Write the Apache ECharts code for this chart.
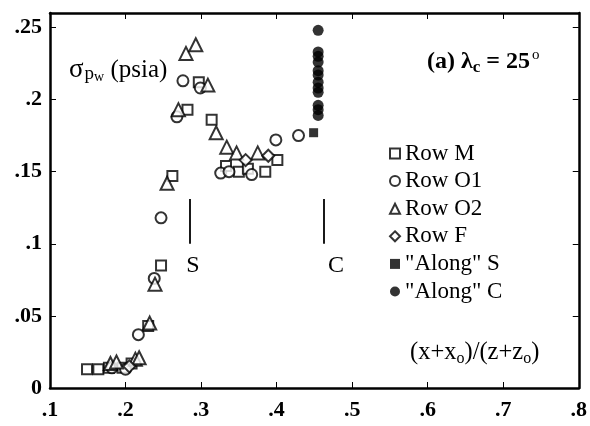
<!DOCTYPE html>
<html>
<head>
<meta charset="utf-8">
<script src="https://cdn.jsdelivr.net/npm/echarts@6/dist/echarts.min.js"></script>
<style>html,body{margin:0;padding:0;background:#fff}#c{width:590px;height:426px}</style>
</head>
<body>
<div id="c"></div>
<script>
var xTicks = [0.1,0.2,0.3,0.4,0.5,0.6,0.7,0.8];
var yTicks = [0,0.05,0.1,0.15,0.2,0.25];

var rowM = [[0.149,0.013],[0.164,0.013],[0.178,0.014],[0.196,0.014],[0.208,0.017],[0.230,0.043],[0.247,0.085],[0.262,0.147],[0.282,0.193],[0.297,0.212],[0.314,0.186],[0.333,0.154],[0.350,0.150],[0.362,0.152],[0.385,0.150],[0.401,0.158]];
var rowO1 = [[0.182,0.014],[0.200,0.013],[0.217,0.037],[0.238,0.076],[0.247,0.118],[0.268,0.188],[0.276,0.213],[0.299,0.208],[0.326,0.149],[0.337,0.150],[0.367,0.148],[0.399,0.172],[0.429,0.175]];
var rowO2 = [[0.180,0.017],[0.188,0.018],[0.213,0.020],[0.218,0.021],[0.232,0.045],[0.239,0.072],[0.255,0.142],[0.270,0.193],[0.280,0.232],[0.293,0.238],[0.309,0.210],[0.320,0.177],[0.334,0.167],[0.347,0.163],[0.375,0.163]];
var rowF = [[0.205,0.015],[0.359,0.158],[0.389,0.161]];
var alongS = [[0.449,0.177]];
var alongC = [[0.455,0.248],[0.455,0.233],[0.455,0.230],[0.455,0.226],[0.455,0.220],[0.455,0.217],[0.455,0.212],[0.455,0.208],[0.455,0.205],[0.455,0.196],[0.455,0.193],[0.455,0.189]];

var markS = {x:0.2855, y0:0.1, y1:0.131, label:'S'};
var markC = {x:0.463, y0:0.1, y1:0.131, label:'C'};

var FONT = '"Liberation Serif", "DejaVu Serif", serif';
function fmt(v){
  if (Math.abs(v) < 1e-9) return '0';
  var s = (+v.toFixed(2)).toString();
  return s.replace(/^0\./, '.');
}

var chart = echarts.init(document.getElementById('c'), null, {renderer:'canvas'});
var hollow = {color:'#fff', borderColor:'#000', borderWidth:2};
var filled = {color:'#000', borderColor:'#000', borderWidth:0};

function vline(m){
  return {
    symbol:['none','none'],
    silent:true,
    lineStyle:{color:'#000', width:1.8, type:'solid'},
    label:{show:false},
    data:[[{coord:[m.x,m.y0]},{coord:[m.x,m.y1]}]]
  };
}

var option = {
  animation:false,
  backgroundColor:'#fff',
  grid:{left:50, right:7, top:13, bottom:38},
  xAxis:[{
    type:'value', min:0.1, max:0.8, interval:0.1, position:'bottom',
    axisLine:{show:true, onZero:false, lineStyle:{color:'#000', width:2.5}},
    axisTick:{show:true, inside:true, length:6, lineStyle:{color:'#000', width:1}},
    axisLabel:{show:true, margin:11, formatter:fmt, color:'#000', fontFamily:FONT, fontSize:22, fontWeight:'bold'},
    splitLine:{show:false}
  },{
    type:'value', min:0.1, max:0.8, interval:0.1, position:'top',
    axisLine:{show:true, onZero:false, lineStyle:{color:'#000', width:2.5}},
    axisTick:{show:true, inside:true, length:6, lineStyle:{color:'#000', width:1}},
    axisLabel:{show:false}, splitLine:{show:false}
  }],
  yAxis:[{
    type:'value', min:0, max:0.26, interval:0.05, position:'left',
    axisLine:{show:true, onZero:false, lineStyle:{color:'#000', width:2.5}},
    axisTick:{show:true, inside:true, length:6, lineStyle:{color:'#000', width:1}, customValues:yTicks},
    axisLabel:{show:true, margin:8, formatter:fmt, color:'#000', fontFamily:FONT, fontSize:22, fontWeight:'bold', customValues:yTicks},
    splitLine:{show:false}
  },{
    type:'value', min:0, max:0.26, interval:0.05, position:'right',
    axisLine:{show:true, onZero:false, lineStyle:{color:'#000', width:2.5}},
    axisTick:{show:true, inside:true, length:6, lineStyle:{color:'#000', width:1}, customValues:yTicks},
    axisLabel:{show:false}, splitLine:{show:false}
  }],
  legend:{
    orient:'vertical', left:384, top:137, itemWidth:10, itemHeight:10, itemGap:4.6,
    textStyle:{fontFamily:FONT, fontSize:23, color:'#000', lineHeight:23, padding:[0,0,0,0]},
    data:['Row M','Row O1','Row O2','Row F','"Along" S','"Along" C']
  },
  series:[
    {name:'Row M', type:'scatter', symbol:'rect', symbolSize:10, itemStyle:hollow, data:rowM, z:3,
      markLine:vline(markS)},
    {name:'Row O1', type:'scatter', symbol:'circle', symbolSize:11, itemStyle:hollow, data:rowO1, z:3,
      markLine:vline(markC)},
    {name:'Row O2', type:'scatter', symbol:'triangle', symbolSize:13, itemStyle:hollow, data:rowO2, z:3},
    {name:'Row F', type:'scatter', symbol:'diamond', symbolSize:12, itemStyle:hollow, data:rowF, z:3},
    {name:'"Along" S', type:'scatter', symbol:'rect', symbolSize:9, itemStyle:filled, data:alongS, z:4},
    {name:'"Along" C', type:'scatter', symbol:'circle', symbolSize:11, itemStyle:filled, data:alongC, z:4}
  ],
  graphic:[
    {type:'text', x:69, y:70, style:{
      text:'{s|σ}{p|p}{w|w}{t| (psia)}',
      verticalAlign:'middle',
      rich:{
        s:{fontFamily:FONT, fontSize:27, fill:'#000'},
        p:{fontFamily:FONT, fontSize:19, fill:'#000', padding:[9,0,0,1]},
        w:{fontFamily:FONT, fontSize:14, fill:'#000', padding:[14,0,0,0]},
        t:{fontFamily:FONT, fontSize:25, fill:'#000'}
      }}},
    {type:'text', x:427, y:62, style:{
      text:'{a|(a) λ}{c|c}{a| = 25}{o|o}',
      verticalAlign:'middle',
      rich:{
        a:{fontFamily:FONT, fontSize:24, fontWeight:'bold', fill:'#000'},
        c:{fontFamily:FONT, fontSize:17, fontWeight:'bold', fill:'#000', padding:[12,0,0,0]},
        o:{fontFamily:FONT, fontSize:15, fill:'#000', padding:[0,0,14,2]}
      }}},
    {type:'text', x:193, y:266, style:{text:'S', align:'center', verticalAlign:'middle', fontFamily:FONT, fontSize:24, fill:'#000'}},
    {type:'text', x:336, y:266, style:{text:'C', align:'center', verticalAlign:'middle', fontFamily:FONT, fontSize:24, fill:'#000'}},
    {type:'text', x:410, y:353, style:{
      text:'{a|(x+x}{b|o}{a|)/(z+z}{b|o}{a|)}',
      verticalAlign:'middle',
      rich:{
        a:{fontFamily:FONT, fontSize:24.5, fill:'#000'},
        b:{fontFamily:FONT, fontSize:16, fill:'#000', padding:[11,0,0,0]}
      }}}
  ]
};
chart.setOption(option);
</script>
</body>
</html>
